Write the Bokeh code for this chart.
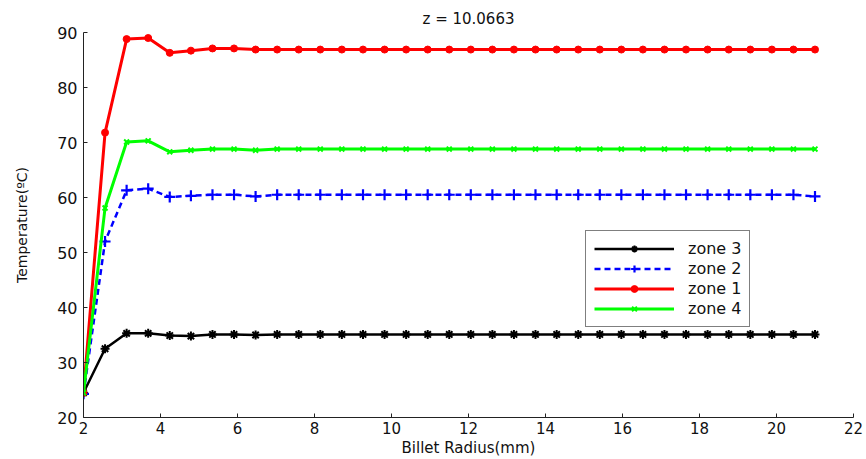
from bokeh.plotting import figure
from bokeh.models import Legend, LegendItem, FixedTicker, Range1d
from bokeh.embed import file_html
from bokeh.resources import INLINE

radius = [2.00, 2.56, 3.12, 3.68, 4.24, 4.79, 5.35, 5.91, 6.47, 7.03,
          7.59, 8.15, 8.71, 9.26, 9.82, 10.38, 10.94, 11.50, 12.06, 12.62,
          13.18, 13.74, 14.29, 14.85, 15.41, 15.97, 16.53, 17.09, 17.65, 18.21,
          18.76, 19.32, 19.88, 20.44, 21.00]

zone3 = [24.5, 32.5, 35.3, 35.3, 34.9, 34.8, 35.1, 35.1, 35.0, 35.1,
         35.1, 35.1, 35.1, 35.1, 35.1, 35.1, 35.1, 35.1, 35.1, 35.1,
         35.1, 35.1, 35.1, 35.1, 35.1, 35.1, 35.1, 35.1, 35.1, 35.1,
         35.1, 35.1, 35.1, 35.1, 35.1]

zone2 = [24.3, 52.0, 61.3, 61.6, 60.1, 60.3, 60.5, 60.5, 60.2, 60.5,
         60.5, 60.5, 60.5, 60.5, 60.5, 60.5, 60.5, 60.5, 60.5, 60.5,
         60.5, 60.5, 60.5, 60.5, 60.5, 60.5, 60.5, 60.5, 60.5, 60.5,
         60.5, 60.5, 60.5, 60.5, 60.2]

zone1 = [24.5, 71.8, 88.8, 89.0, 86.3, 86.7, 87.1, 87.1, 86.9, 86.9,
         86.9, 86.9, 86.9, 86.9, 86.9, 86.9, 86.9, 86.9, 86.9, 86.9,
         86.9, 86.9, 86.9, 86.9, 86.9, 86.9, 86.9, 86.9, 86.9, 86.9,
         86.9, 86.9, 86.9, 86.9, 86.9]

zone4 = [24.5, 58.1, 70.1, 70.3, 68.3, 68.6, 68.8, 68.8, 68.6, 68.8,
         68.8, 68.8, 68.8, 68.8, 68.8, 68.8, 68.8, 68.8, 68.8, 68.8,
         68.8, 68.8, 68.8, 68.8, 68.8, 68.8, 68.8, 68.8, 68.8, 68.8,
         68.8, 68.8, 68.8, 68.8, 68.8]

x_ticks = [2, 4, 6, 8, 10, 12, 14, 16, 18, 20, 22]
y_ticks = [20, 30, 40, 50, 60, 70, 80, 90]

FONT = "DejaVu Sans"

p = figure(width=866, height=459, output_backend="svg", toolbar_location=None,
           x_range=Range1d(2, 22), y_range=Range1d(20, 90),
           min_border_left=83, min_border_right=13,
           min_border_top=32, min_border_bottom=42)

p.title.text = "z = 10.0663"
p.title.align = "center"
p.title.text_font = FONT
p.title.text_font_size = "15px"
p.title.text_font_style = "normal"
p.title.text_color = "#111111"

p.grid.visible = False
p.outline_line_color = None
p.background_fill_color = "white"
p.border_fill_color = "white"

for ax in (p.xaxis[0], p.yaxis[0]):
    ax.major_tick_in = 4
    ax.major_tick_out = 0
    ax.minor_tick_line_color = None
    ax.axis_line_color = "#222222"
    ax.major_tick_line_color = "#222222"
    ax.major_label_text_font = FONT
    ax.major_label_text_font_size = "16px"
    ax.major_label_text_color = "#111111"
    ax.axis_label_text_font = FONT
    ax.axis_label_text_font_style = "normal"
    ax.axis_label_text_color = "#111111"

p.xaxis.ticker = FixedTicker(ticks=x_ticks)
p.yaxis.ticker = FixedTicker(ticks=y_ticks)
p.xaxis.axis_label = "Billet Radius(mm)"
p.xaxis.axis_label_text_font_size = "15px"
p.xaxis.major_label_text_font_size = "15px"
p.xaxis.major_label_standoff = 4
p.xaxis.axis_label_standoff = 2
p.yaxis.axis_label = "Temperature(\u00baC)"
p.yaxis.axis_label_text_font_size = "14px"
p.yaxis.major_label_standoff = 6
p.yaxis.axis_label_standoff = 24

l3 = p.line(radius, zone3, line_color="black", line_width=2.5)
m3 = p.scatter(radius, zone3, marker="asterisk", size=9, line_color="black",
               line_width=2)
l2 = p.line(radius, zone2, line_color="blue", line_width=2.5, line_dash="6 4")
m2 = p.scatter(radius, zone2, marker="cross", size=11, line_color="blue",
               line_width=2.2)
l1 = p.line(radius, zone1, line_color="red", line_width=3)
m1 = p.scatter(radius, zone1, marker="circle", size=7, line_color="red",
               fill_color="red")
l4 = p.line(radius, zone4, line_color="#00ff00", line_width=3)
m4 = p.scatter(radius, zone4, marker="x", size=7, line_color="#00ff00",
               line_width=2)

legend = Legend(items=[
    LegendItem(label="zone 3", renderers=[l3, m3]),
    LegendItem(label="zone 2", renderers=[l2, m2]),
    LegendItem(label="zone 1", renderers=[l1, m1]),
    LegendItem(label="zone 4", renderers=[l4, m4]),
], location=(502, 90))
legend.border_line_color = "black"
legend.border_line_width = 1
legend.background_fill_color = "white"
legend.background_fill_alpha = 1
legend.label_text_font = FONT
legend.label_text_font_size = "16px"
legend.label_text_color = "#111111"
legend.glyph_width = 80
legend.glyph_height = 17
legend.label_height = 17
legend.label_standoff = 14
legend.padding = 8
legend.spacing = 1
legend.margin = 0
p.add_layout(legend, "center")

open("out.html", "w").write(file_html(p, INLINE))
